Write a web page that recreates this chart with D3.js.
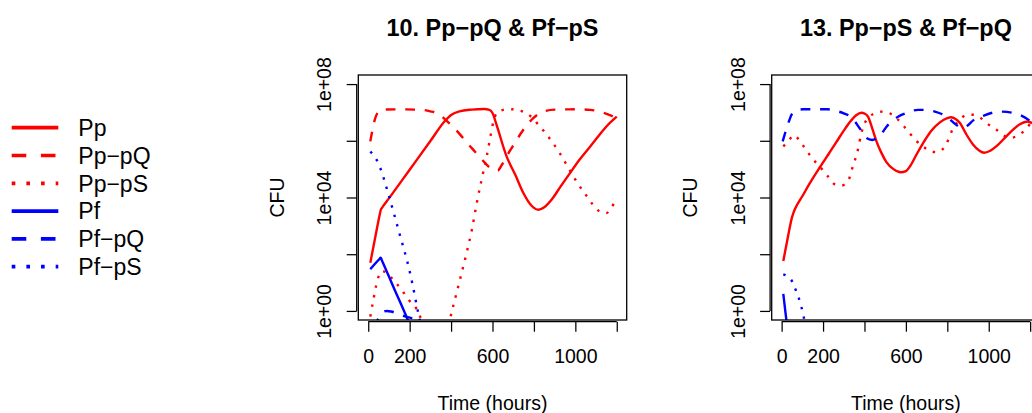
<!DOCTYPE html>
<html><head><meta charset="utf-8">
<script src="https://cdn.jsdelivr.net/npm/d3@7"></script>
<style>
body{margin:0;background:#fff}
svg{display:block}
text{font-family:"Liberation Sans",Arial,Helvetica,sans-serif;fill:#000}
</style>
</head><body><svg id="chart" width="1032" height="413"></svg>
<script>
// ---------- labels ----------
const seriesNames = ["Pp", "Pp\u2212pQ", "Pp\u2212pS", "Pf", "Pf\u2212pQ", "Pf\u2212pS"];
const panelTitles = ["10. Pp\u2212pQ & Pf\u2212pS", "13. Pp\u2212pS & Pf\u2212pQ"];
const xTicks = [0, 200, 400, 600, 800, 1000, 1200];
const xTickLabels = ["0", "200", "", "600", "", "1000", ""];
const yTicks = [1e0, 1e2, 1e4, 1e6, 1e8];
const yTickLabels = ["1e+00", "", "1e+04", "", "1e+08"];
const xLabel = "Time (hours)";
const yLabel = "CFU";

// ---------- data: [time in hours, log10(CFU)] ----------
// Panel 10
const p10_Pp = [[10,1.7],[35,2.64],[55,3.38],[60,3.55],[66,3.63],[100,3.97],[200,4.98],[300,5.99],[370,6.7],[400,6.91],[440,7.04],[500,7.1],[560,7.12],[585,7.09],[600,6.98],[620,6.55],[668,5.45],[710,4.8],[749,4.16],[790,3.7],[821,3.57],[850,3.66],[886,3.93],[930,4.4],[974,4.86],[1020,5.33],[1071,5.79],[1110,6.15],[1152,6.52],[1200,6.85]];
const p10_PpQ = [[10,5.98],[30,6.7],[50,7.04],[70,7.1],[150,7.11],[258,7.09],[300,7.04],[338,6.95],[379,6.7],[419,6.42],[460,6.08],[500,5.74],[540,5.42],[580,5.1],[605,4.97],[625,4.95],[645,5.15],[668,5.45],[710,5.95],[749,6.39],[797,6.8],[845,7.03],[900,7.1],[1000,7.11],[1071,7.09],[1135,6.99],[1170,6.9],[1200,6.8]];
const p10_PpS = [[10,-0.2],[25,0.4],[45,1.1],[65,1.4],[90,1.35],[120,1.1],[160,0.76],[193,0.41],[234,0.06],[255,-0.3],[280,-1.2],[370,-1.2],[395,-0.29],[427,0.65],[475,2.05],[500,2.85],[524,3.8],[548,4.65],[572,5.45],[590,6.15],[605,6.7],[620,6.97],[652,7.09],[700,7.11],[740,7.05],[765,6.97],[800,6.75],[829,6.5],[853,6.3],[886,5.98],[926,5.55],[966,5.05],[1007,4.55],[1055,4.05],[1090,3.7],[1127,3.47],[1150,3.45],[1175,3.65],[1200,3.99]];
const p10_Pf = [[10,1.47],[35,1.68],[55,1.84],[60,1.88],[65,1.8],[120,0.87],[190,-0.3],[215,-0.75]];
const p10_PfQ = [[30,-0.6],[50,-0.25],[70,-0.05],[90,0.0],[110,-0.02],[150,-0.12],[190,-0.22],[230,-0.3],[260,-0.5]];
const p10_PfS = [[10,5.62],[35,5.4],[60,5.0],[100,4.05],[150,2.75],[200,1.4],[245,-0.2],[265,-0.9]];
// Panel 13
const p13_Pp = [[8,1.76],[30,2.6],[50,3.3],[57,3.46],[65,3.6],[102,4.07],[134,4.48],[183,5.05],[230,5.57],[264,5.95],[300,6.36],[336,6.72],[360,6.9],[385,6.99],[400,6.96],[417,6.85],[437,6.45],[457,6.0],[480,5.6],[506,5.25],[540,5.0],[575,4.89],[600,4.93],[620,5.1],[650,5.5],[683,5.92],[720,6.33],[764,6.65],[800,6.8],[818,6.83],[840,6.77],[861,6.63],[890,6.25],[925,5.86],[955,5.65],[978,5.58],[1005,5.64],[1039,5.82],[1080,6.12],[1119,6.4],[1150,6.58],[1188,6.68],[1210,6.62]];
const p13_PpS = [[8,5.8],[34,6.01],[60,6.2],[86,6.01],[118,5.68],[150,5.36],[183,5.1],[223,4.75],[255,4.47],[288,4.42],[320,4.57],[344,5.1],[368,5.68],[385,6.27],[401,6.62],[425,6.85],[457,6.99],[489,7.03],[522,6.97],[554,6.8],[586,6.55],[620,6.25],[650,6.0],[683,5.8],[716,5.64],[745,5.6],[772,5.67],[797,5.9],[813,6.2],[829,6.45],[861,6.75],[893,6.91],[925,6.92],[958,6.82],[990,6.62],[1039,6.38],[1080,6.16],[1103,6.1],[1136,6.17],[1168,6.33],[1200,6.6]];
const p13_Pf = [[8,0.6],[16,0.1],[25,-0.45],[35,-1.0]];
const p13_PfQ = [[5,5.98],[29,6.55],[50,6.95],[66,7.05],[102,7.11],[223,7.11],[264,7.05],[300,6.97],[336,6.83],[376,6.45],[409,6.1],[437,6.03],[473,6.18],[514,6.56],[562,6.85],[603,6.98],[659,7.09],[700,7.09],[740,7.03],[797,6.85],[840,6.58],[869,6.45],[900,6.55],[925,6.72],[974,6.88],[1055,7.03],[1119,6.98],[1160,6.88],[1200,6.7]];
const p13_PfS = [[8,1.29],[45,1.11],[70,0.7],[94,0.18],[112,-0.4],[125,-0.9]];

// ---------- styles ----------
const colors = ["#ff0000","#ff0000","#ff0000","#0000ff","#0000ff","#0000ff"];
const plotDash = [null, "9.75,9.75", "2.44,7.3", null, "9.75,9.75", "2.44,7.3"];
const legendDash = [null, "14.6,14.6", "3.66,11", null, "14.6,14.6", "3.66,11"];

const svg = d3.select("#chart");
const TOP = 75, H = 245, W = 268.4;
const panels = [
  {left: 358.3, title: panelTitles[0], series: [p10_Pp, p10_PpQ, p10_PpS, p10_Pf, p10_PfQ, p10_PfS]},
  {left: 771.7, title: panelTitles[1], series: [p13_Pp, null, p13_PpS, p13_Pf, p13_PfQ, p13_PfS]}
];

const yScale = d3.scaleLog().domain([Math.pow(10, -0.32), Math.pow(10, 8.32)]).range([TOP + H, TOP]);

panels.forEach((p, pi) => {
  const x = d3.scaleLinear().domain([-48, 1248]).range([p.left, p.left + W]);
  const y = yScale;
  const g = svg.append("g");

  const clipId = "clip" + pi;
  svg.append("clipPath").attr("id", clipId)
    .append("rect").attr("x", p.left).attr("y", TOP).attr("width", W).attr("height", H);

  const line = d3.line()
    .x(d => x(d[0]))
    .y(d => y(Math.pow(10, d[1])))
    .curve(d3.curveMonotoneX);

  const lg = g.append("g").attr("clip-path", `url(#${clipId})`);
  p.series.forEach((s, si) => {
    if (!s) return;
    lg.append("path")
      .attr("d", line(s))
      .attr("fill", "none")
      .attr("stroke", colors[si])
      .attr("stroke-width", 2.4)
      .attr("stroke-linecap", "butt")
      .attr("stroke-linejoin", "round")
      .attr("stroke-dasharray", plotDash[si]);
  });

  // box
  g.append("rect").attr("x", p.left).attr("y", TOP).attr("width", W).attr("height", H)
    .attr("fill", "none").attr("stroke", "#000").attr("stroke-width", 1.3);

  // x axis
  const gx = g.append("g").attr("transform", `translate(0,${TOP + H + 1.7})`)
    .call(d3.axisBottom(x).tickValues(xTicks).tickSize(10).tickSizeOuter(0)
      .tickFormat((d, i) => xTickLabels[i]));
  gx.attr("font-size", null).attr("font-family", null);
  gx.select(".domain").attr("d", `M${x(0)},0H${x(1200)}`).attr("stroke-width", 1.25);
  gx.selectAll(".tick line").attr("stroke-width", 1.25);
  gx.selectAll(".tick text").attr("y", 41.5).attr("dy", null).style("font-size", "19.5px");

  // y axis
  const gy = g.append("g").attr("transform", `translate(${p.left - 1.6},0)`)
    .call(d3.axisLeft(y).tickValues(yTicks).tickSize(10).tickSizeOuter(0)
      .tickFormat((d, i) => yTickLabels[i]));
  gy.attr("font-size", null).attr("font-family", null);
  gy.select(".domain").attr("d", `M0,${y(1e0)}V${y(1e8)}`).attr("stroke-width", 1.25);
  gy.selectAll(".tick line").attr("stroke-width", 1.25);
  gy.selectAll(".tick text").attr("x", null).attr("dy", null)
    .attr("transform", "translate(-25.3,0) rotate(-90)")
    .attr("text-anchor", "middle").style("font-size", "19.5px");

  // title
  g.append("text").attr("x", p.left + W / 2).attr("y", 36)
    .attr("text-anchor", "middle").style("font-size", "23.4px").style("font-weight", "bold")
    .text(p.title);
  // axis labels
  g.append("text").attr("x", p.left + W / 2).attr("y", 410)
    .attr("text-anchor", "middle").style("font-size", "19.5px").text(xLabel);
  g.append("text").attr("transform", `translate(${p.left - 74.5},${TOP + H / 2}) rotate(-90)`)
    .attr("text-anchor", "middle").style("font-size", "19.5px").text(yLabel);
});

// legend
const leg = svg.append("g");
const rowY = i => 127.7 + i * 27.8;
seriesNames.forEach((n, i) => {
  leg.append("line").attr("x1", 11.7).attr("x2", 58.3).attr("y1", rowY(i)).attr("y2", rowY(i))
    .attr("stroke", colors[i]).attr("stroke-width", 3.66)
    .attr("stroke-dasharray", legendDash[i]);
  leg.append("text").attr("x", 78.3).attr("y", rowY(i) + 8.3)
    .style("font-size", "23px").text(n);
});
</script>
</body></html>
